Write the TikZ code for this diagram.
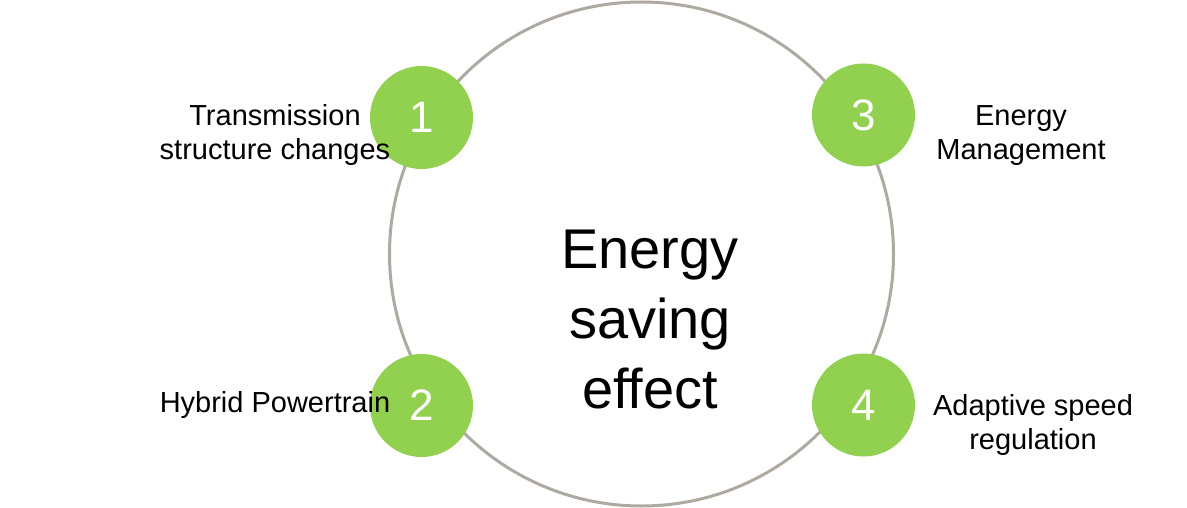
\documentclass[tikz,border=0pt]{standalone}
\usepackage{fontspec}
\setmainfont{Liberation Sans}
\usepackage{tikz,xcolor}
\definecolor{ringgrey}{RGB}{174,170,161}
\definecolor{leafgreen}{RGB}{146,208,80}
\tikzset{
    numdot/.style={circle, fill=leafgreen, minimum size=103pt, inner sep=0pt,
        text=white, font=\fontsize{44}{44}\selectfont},
    sidelabel/.style={align=center, inner sep=0pt, font=\fontsize{29}{34}\selectfont}
}

\begin{document}
\begin{tikzpicture}[x=1pt, y=-1pt]

    \useasboundingbox (0,0) rectangle (1187,508);

    % Outer ring
    \draw[ringgrey, line width=3pt] (641.5,254) circle (252pt);

    % Centre text
    \node[align=center, inner sep=0pt, font=\fontsize{56}{70}\selectfont] (centre) at (650,320) {Energy\\saving\\effect};

    % Numbered dots
    \node[numdot] (one) at (421.5,117.5) {1};
    \node[numdot] (two) at (421.5,405.5) {2};
    \node[numdot] (three) at (863.5,115) {3};
    \node[numdot] (four) at (863.5,405) {4};

    % Labels
    \node[sidelabel] (transmission) at (275,135) {Transmission\\structure changes};
    \node[sidelabel] (hybrid) at (275,405.5) {Hybrid Powertrain};
    \node[sidelabel] (management) at (1021,135.5) {Energy\\Management};
    \node[sidelabel] (adaptive) at (1033,425.5) {Adaptive speed\\regulation};

\end{tikzpicture}
\end{document}
